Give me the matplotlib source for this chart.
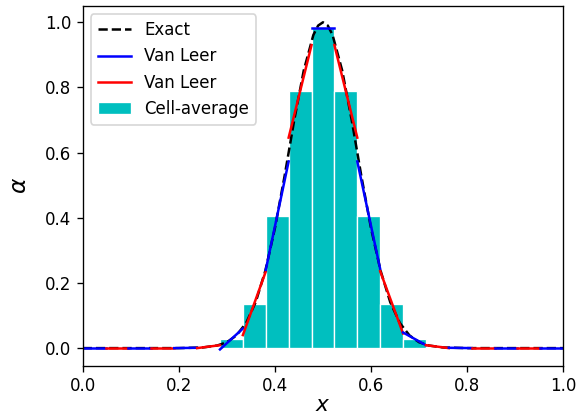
import matplotlib
matplotlib.use("Agg")
import matplotlib.pyplot as plt

# grid: 21 cells on [0, 1]
n_cells = 21
cell_edges = [i / n_cells for i in range(n_cells + 1)]
cell_width = 1.0 / n_cells

# cell averages
cell_avg = [0.0, 0.0, 0.0, 0.0, 0.0003, 0.003, 0.027, 0.134, 0.407, 0.788, 0.981,
            0.788, 0.407, 0.134, 0.027, 0.003, 0.0003, 0.0, 0.0, 0.0, 0.0]

# Van Leer reconstruction: value at left / right face of each cell
vl_left = [0.0, 0.0, 0.0, 0.0, 0.0, 0.0, -0.004, 0.040, 0.240, 0.646, 0.981,
           0.930, 0.573, 0.236, 0.048, 0.009, 0.001, 0.0, 0.0, 0.0, 0.0]
vl_right = [0.0, 0.0, 0.0, 0.0, 0.001, 0.009, 0.060, 0.235, 0.573, 0.930, 0.981,
            0.646, 0.243, 0.045, 0.009, 0.0, 0.0, 0.0, 0.0, 0.0, 0.0]

# exact profile
x_exact = [0.0, 0.1, 0.2, 0.25, 0.28, 0.30, 0.32, 0.34, 0.36, 0.38, 0.40, 0.42,
           0.44, 0.46, 0.48, 0.49, 0.50, 0.51, 0.52, 0.54, 0.56, 0.58, 0.60,
           0.62, 0.64, 0.66, 0.68, 0.70, 0.72, 0.75, 0.8, 0.9, 1.0]
y_exact = [0.0, 0.0, 0.0, 0.002, 0.008, 0.018, 0.039, 0.077, 0.141, 0.237, 0.368,
           0.527, 0.698, 0.852, 0.961, 0.990, 1.0, 0.990, 0.961, 0.852, 0.698,
           0.527, 0.368, 0.237, 0.141, 0.077, 0.039, 0.018, 0.008, 0.002, 0.0,
           0.0, 0.0]

dpi = 120
fig = plt.figure(figsize=(579 / dpi, 417 / dpi), dpi=dpi)
ax = fig.add_axes([0.1428, 0.1230, 0.830, 0.8626])

ax.plot(x_exact, y_exact, 'k--', lw=1.5, label='Exact')

blue_done = False
red_done = False
for i in range(n_cells):
    col = 'b' if i % 2 == 0 else 'r'
    lab = None
    if col == 'b' and not blue_done:
        lab = 'Van Leer'
        blue_done = True
    if col == 'r' and not red_done:
        lab = 'Van Leer'
        red_done = True
    ax.plot([cell_edges[i], cell_edges[i + 1]], [vl_left[i], vl_right[i]],
            color=col, lw=1.5, label=lab)

centers = [(cell_edges[i] + cell_edges[i + 1]) / 2 for i in range(n_cells)]
ax.bar(centers, cell_avg, width=cell_width, color='c', edgecolor='white',
       linewidth=0.8, label='Cell-average')

ax.set_xlim(0, 1)
ax.set_ylim(-0.054, 1.05)
ax.set_xlabel('$x$', fontsize=13, labelpad=0)
ax.set_ylabel(r'$\alpha$', fontsize=14, labelpad=8)
ax.tick_params(labelsize=10)
ax.legend(loc='upper left', fontsize=10)

fig.savefig('out.png', dpi=dpi)
